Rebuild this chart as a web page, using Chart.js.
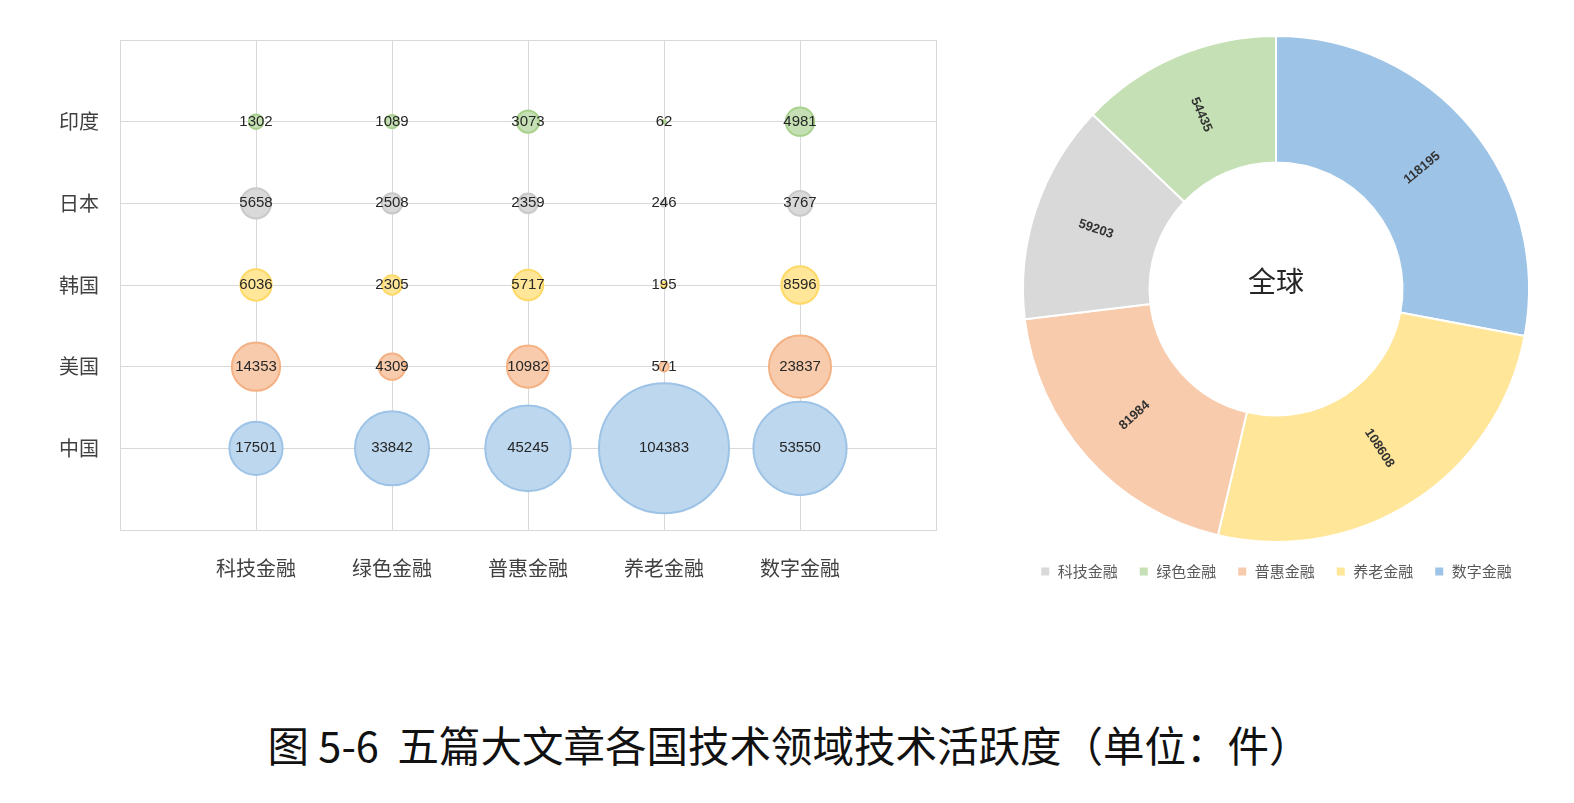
<!DOCTYPE html>
<html>
<head>
<meta charset="utf-8">
<script src="https://cdn.jsdelivr.net/npm/chart.js@4/dist/chart.umd.min.js"></script>
<style>
  body { margin: 0; background: #fff; width: 1574px; height: 803px; position: relative; overflow: hidden; }
  #bubble { position: absolute; left: 0; top: 0; }
  #donut { position: absolute; left: 1000px; top: 0; }
  #caption {
    position: absolute; left: 10px; width: 1558px; top: 714px; text-align: center;
    font-family: "Noto Sans CJK SC", sans-serif; font-size: 41.5px; color: #111;
    white-space: pre;
  }
</style>
</head>
<body>
<canvas id="bubble" width="962" height="620"></canvas>
<canvas id="donut" width="552" height="599"></canvas>
<div id="caption">图 5-6  五篇大文章各国技术领域技术活跃度（单位：件）</div>
<script>
const categories = ['科技金融', '绿色金融', '普惠金融', '养老金融', '数字金融'];
const countries = ['中国', '美国', '韩国', '日本', '印度'];

const chinaVals = [17501, 33842, 45245, 104383, 53550];
const usaVals = [14353, 4309, 10982, 571, 23837];
const koreaVals = [6036, 2305, 5717, 195, 8596];
const japanVals = [5658, 2508, 2359, 246, 3767];
const indiaVals = [1302, 1089, 3073, 62, 4981];

const globalLabels = ['数字金融', '养老金融', '普惠金融', '科技金融', '绿色金融'];
const globalVals = [118195, 108608, 81984, 59203, 54435];
const legendOrder = ['科技金融', '绿色金融', '普惠金融', '养老金融', '数字金融'];

const fills = ['#BDD7EE', '#F8CBAD', '#FFE699', '#D9D9D9', '#C5E0B4'];
const borders = ['#9DC3E6', '#F4B183', '#FFD966', '#C9C9C9', '#A9D18E'];
const donutColors = {
    '科技金融': '#D9D9D9', '绿色金融': '#C5E0B4', '普惠金融': '#F8CBAD',
    '养老金融': '#FFE699', '数字金融': '#9DC3E6'
};

const cjk = '"Noto Sans CJK SC", sans-serif';
const allVals = [chinaVals, usaVals, koreaVals, japanVals, indiaVals];
const maxVal = Math.max(...allVals.flat());
const maxR = 65;

function toPoints(vals, row) {
    return vals.map((v, i) => ({ x: i + 1, y: row, r: maxR * Math.sqrt(v / maxVal), v }));
}

const bubbleLabels = {
    id: 'bubbleLabels',
    afterDatasetsDraw(chart) {
        const ctx = chart.ctx;
        ctx.save();
        ctx.font = '15px "Liberation Sans", sans-serif';
        ctx.fillStyle = '#262626';
        ctx.textAlign = 'center';
        ctx.textBaseline = 'middle';
        chart.data.datasets.forEach((ds, di) => {
            chart.getDatasetMeta(di).data.forEach((pt, i) => {
                ctx.fillText(String(ds.data[i].v), pt.x, pt.y);
            });
        });
        ctx.restore();
    }
};

new Chart(document.getElementById('bubble'), {
    type: 'bubble',
    data: {
        datasets: countries.map((c, k) => ({
            label: c,
            data: toPoints(allVals[k], k + 1),
            backgroundColor: fills[k],
            borderColor: borders[k],
            borderWidth: 2,
            clip: false
        }))
    },
    options: {
        responsive: false,
        devicePixelRatio: 1,
        animation: false,
        events: [],
        layout: { autoPadding: false, padding: { left: 0, top: 40, right: 24, bottom: 0 } },
        plugins: { legend: { display: false }, tooltip: { enabled: false } },
        scales: {
            x: {
                type: 'linear', min: 0, max: 6,
                afterFit: s => { s.height = 90; },
                grid: { color: '#D9D9D9', drawTicks: false },
                border: { color: '#D9D9D9' },
                ticks: {
                    stepSize: 1, autoSkip: false, maxRotation: 0, padding: 26,
                    color: '#404040', font: { family: cjk, size: 20 },
                    callback: v => categories[v - 1] || ''
                }
            },
            y: {
                type: 'linear', min: 0, max: 6,
                afterFit: s => { s.width = 120; },
                grid: { color: '#D9D9D9', drawTicks: false },
                border: { color: '#D9D9D9' },
                ticks: {
                    stepSize: 1, autoSkip: false, padding: 21,
                    color: '#404040', font: { family: cjk, size: 20 },
                    callback: v => countries[v - 1] || ''
                }
            }
        }
    },
    plugins: [bubbleLabels]
});

const donutLabels = {
    id: 'donutLabels',
    afterDatasetsDraw(chart) {
        const ctx = chart.ctx;
        const meta = chart.getDatasetMeta(0);
        ctx.save();
        ctx.font = 'bold 13px "Liberation Sans", sans-serif';
        ctx.fillStyle = '#333333';
        ctx.textAlign = 'center';
        ctx.textBaseline = 'middle';
        meta.data.forEach((arc, i) => {
            const p = arc.getProps(['x', 'y', 'startAngle', 'endAngle', 'innerRadius', 'outerRadius'], true);
            const a = (p.startAngle + p.endAngle) / 2;
            const r = (p.innerRadius + p.outerRadius) / 2;
            let rot = a;
            while (rot > Math.PI / 2) rot -= Math.PI;
            while (rot < -Math.PI / 2) rot += Math.PI;
            ctx.save();
            ctx.translate(p.x + Math.cos(a) * r, p.y + Math.sin(a) * r);
            ctx.rotate(rot);
            ctx.fillText(String(chart.data.datasets[0].data[i]), 0, 0);
            ctx.restore();
        });
        const c = meta.data[0];
        ctx.font = '28px ' + cjk;
        ctx.fillStyle = '#262626';
        ctx.fillText('全球', c.x, c.y - 8);
        ctx.restore();
    }
};

new Chart(document.getElementById('donut'), {
    type: 'doughnut',
    data: {
        labels: globalLabels,
        datasets: [{
            data: globalVals,
            backgroundColor: globalLabels.map(l => donutColors[l]),
            borderColor: '#ffffff',
            borderWidth: 2
        }]
    },
    options: {
        responsive: false,
        devicePixelRatio: 1,
        animation: false,
        events: [],
        cutout: '50%',
        layout: { padding: { left: 0, right: 0, top: 35, bottom: 10 } },
        plugins: {
            tooltip: { enabled: false },
            legend: {
                position: 'bottom',
                labels: {
                    boxWidth: 10, boxHeight: 10, padding: 21,
                    color: '#595959', font: { family: cjk, size: 15 },
                    sort: (a, b) => legendOrder.indexOf(a.text) - legendOrder.indexOf(b.text)
                }
            }
        }
    },
    plugins: [donutLabels]
});
</script>
</body>
</html>
